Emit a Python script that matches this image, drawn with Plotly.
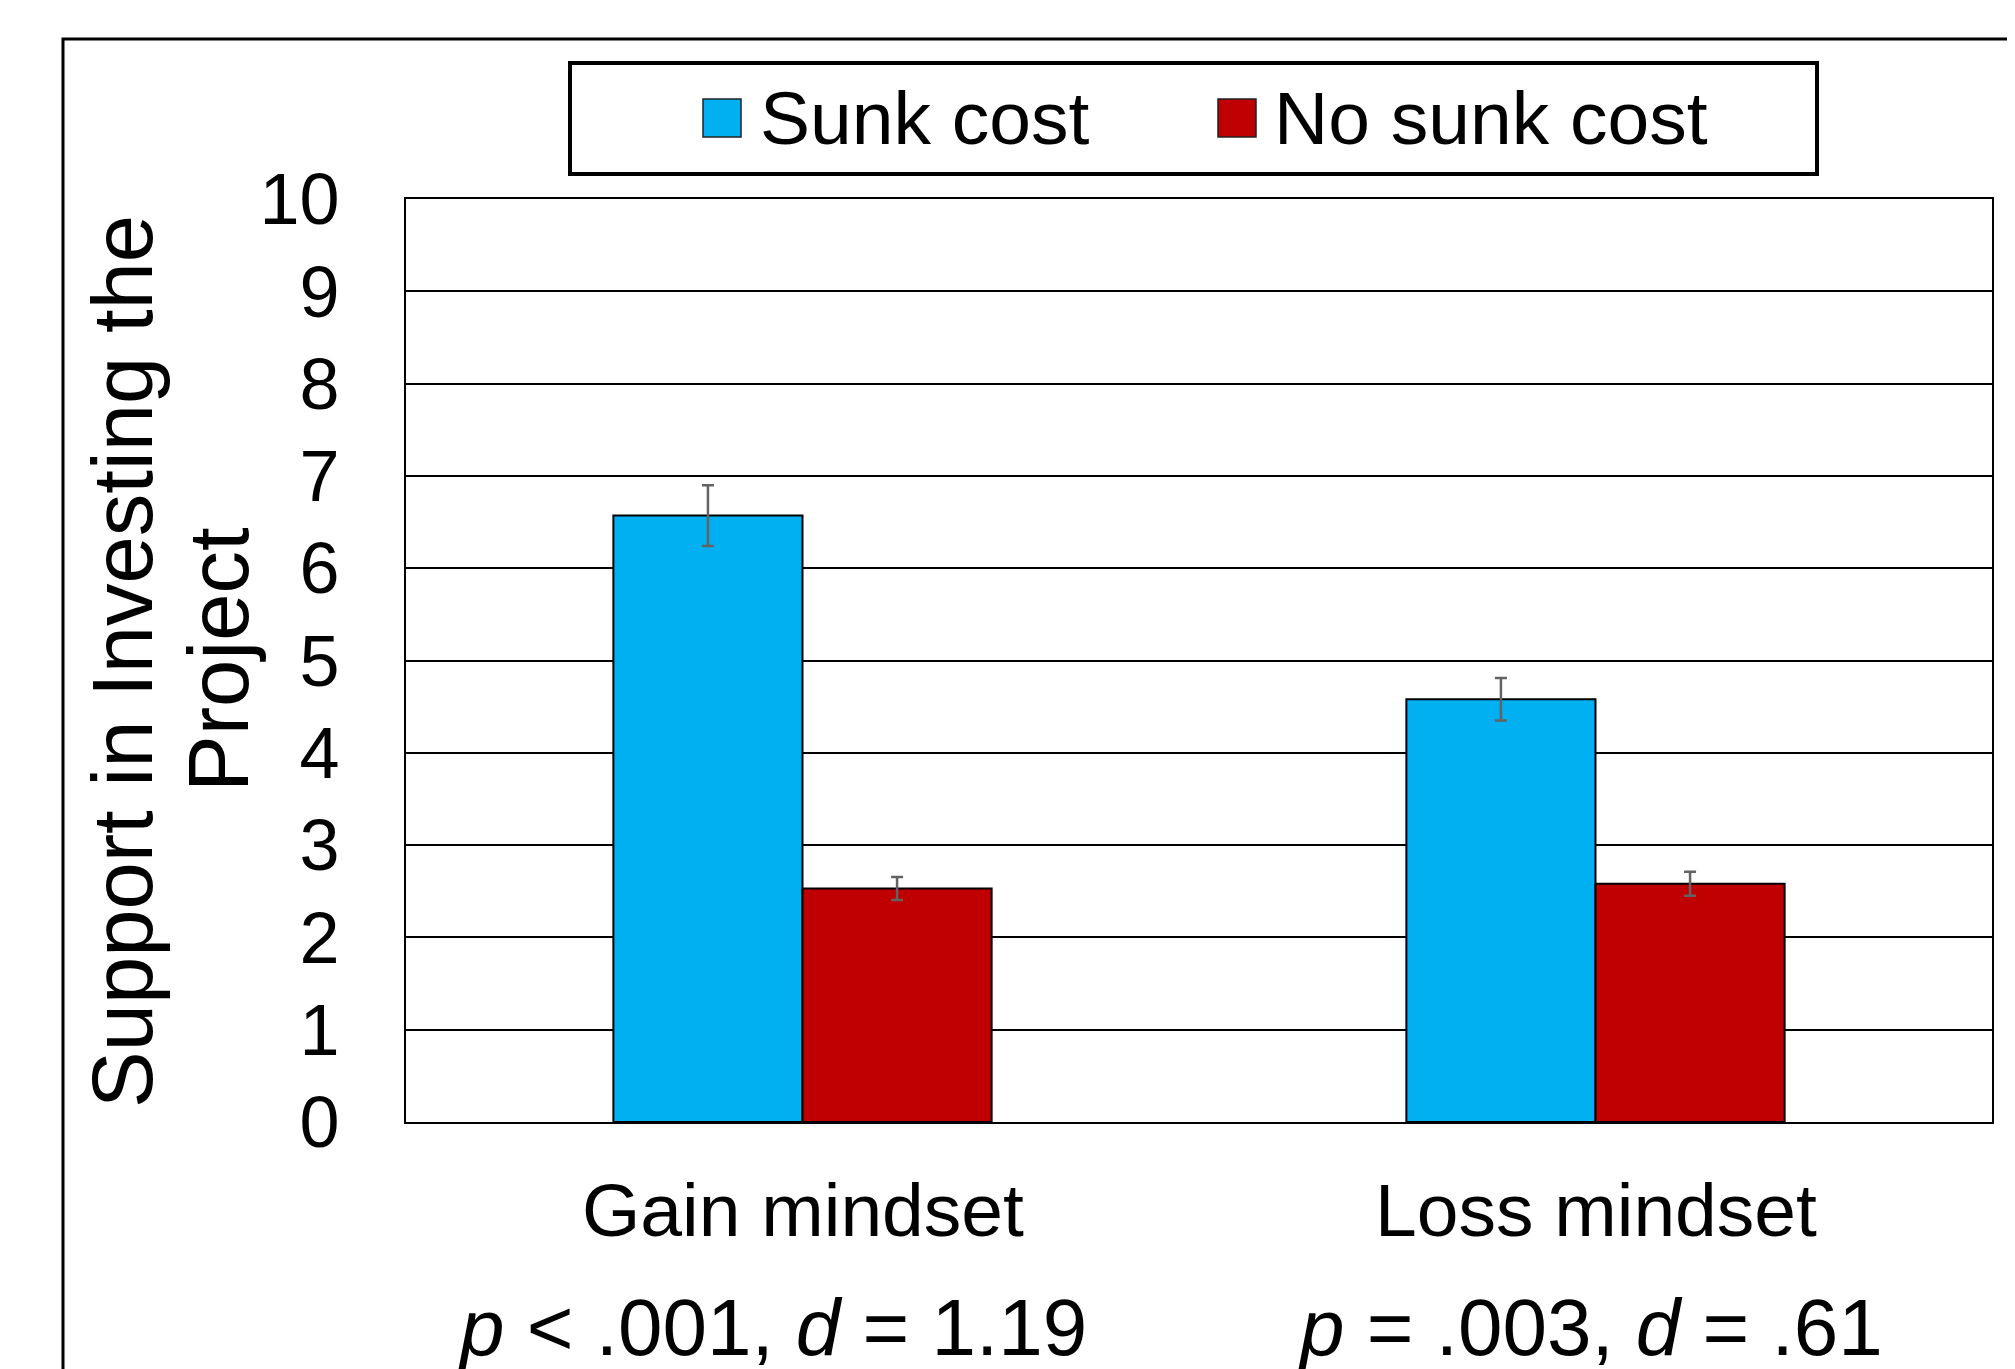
import plotly.graph_objects as go

# ---- data ----
categories = ["Gain mindset", "Loss mindset"]
stats_labels = ["<i>p</i> &lt; .001, <i>d</i> = 1.19", "<i>p</i> = .003, <i>d</i> = .61"]
series_names = ["Sunk cost", "No sunk cost"]
sunk_values = [6.57, 4.58]
sunk_errors = [0.33, 0.23]
nosunk_values = [2.53, 2.58]
nosunk_errors = [0.125, 0.13]
y_ticks = [0, 1, 2, 3, 4, 5, 6, 7, 8, 9, 10]

# ---- style ----
COL_SUNK = "#00B0F0"
COL_NOSUNK = "#C00000"
FONT = "Liberation Sans, Arial, sans-serif"
OFF = 8  # page body margin
W, H = 2015, 1369
PL, PR, PT, PB = 406 - OFF, 1992 - OFF, 199 - OFF, 1122 - OFF
L, R, T, B = PL, W - PR, PT, H - PB
PW, PH = PR - PL, PB - PT


def px(x):
    return (x - OFF - PL) / PW


def py(y):
    return (PB - (y - OFF)) / PH


fig = go.Figure()
for name, vals, errs, col in [
    (series_names[0], sunk_values, sunk_errors, COL_SUNK),
    (series_names[1], nosunk_values, nosunk_errors, COL_NOSUNK),
]:
    fig.add_trace(go.Bar(
        name=name, x=categories, y=vals,
        marker=dict(color=col, line=dict(color="black", width=2)),
        error_y=dict(type="data", array=errs, color="#636363", thickness=2.5, width=6),
        showlegend=False,
    ))

annotations = []
shapes = []
stats_shift = [-30, -5]
for cat, st, sh in zip(categories, stats_labels, stats_shift):
    annotations.append(dict(x=cat, xref="x", y=py(1210), yref="paper", text=cat,
                            showarrow=False, xanchor="center", yanchor="middle",
                            font=dict(family=FONT, size=75, color="black")))
    annotations.append(dict(x=cat, xref="x", y=py(1327), yref="paper", text=st,
                            showarrow=False, xanchor="center", yanchor="middle", xshift=sh,
                            font=dict(family=FONT, size=80, color="black")))

# y axis title (two lines)
annotations.append(dict(x=px(122), y=py(662), xref="paper", yref="paper",
                        text="Support in Investing the", textangle=-90, showarrow=False,
                        xanchor="center", yanchor="middle",
                        font=dict(family=FONT, size=85, color="black")))
annotations.append(dict(x=px(218), y=py(660), xref="paper", yref="paper",
                        text="Project", textangle=-90, showarrow=False,
                        xanchor="center", yanchor="middle",
                        font=dict(family=FONT, size=85, color="black")))

# outer frame
shapes.append(dict(type="rect", xref="paper", yref="paper",
                   x0=px(63), x1=px(2040), y0=py(1420), y1=py(39),
                   line=dict(color="black", width=3), fillcolor="rgba(0,0,0,0)", layer="below"))

# custom legend
shapes.append(dict(type="rect", xref="paper", yref="paper",
                   x0=px(570), x1=px(1817), y0=py(174), y1=py(63),
                   line=dict(color="black", width=4), fillcolor="white"))
for sx, tx, name, col in [(703, 762, series_names[0], COL_SUNK),
                          (1218, 1276, series_names[1], COL_NOSUNK)]:
    shapes.append(dict(type="rect", xref="paper", yref="paper",
                       x0=px(sx), x1=px(sx + 38), y0=py(137), y1=py(99),
                       line=dict(color="#222222", width=1.5), fillcolor=col))
    annotations.append(dict(x=px(tx - 4), y=py(118), xref="paper", yref="paper",
                            text=name, showarrow=False, xanchor="left", yanchor="middle",
                            font=dict(family=FONT, size=75, color="black")))

fig.update_layout(
    width=W, height=H,
    margin=dict(l=L, r=R, t=T, b=B, autoexpand=False),
    paper_bgcolor="white", plot_bgcolor="white",
    barmode="group", bargap=0.523, bargroupgap=0,
    font=dict(family=FONT, color="black"),
    annotations=annotations, shapes=shapes,
    showlegend=False,
)
fig.update_xaxes(showticklabels=False, showgrid=False, showline=True, mirror=True,
                 linecolor="black", linewidth=2, ticks="", range=[-0.5, 1.5])
fig.update_yaxes(range=[0, 10], tickvals=y_ticks, showgrid=True, gridcolor="black",
                 gridwidth=2, showline=True, mirror=True, linecolor="black", linewidth=2,
                 ticks="", ticklabelstandoff=50, zeroline=False,
                 tickfont=dict(family=FONT, size=72, color="black"))

fig.write_html("out.html")
